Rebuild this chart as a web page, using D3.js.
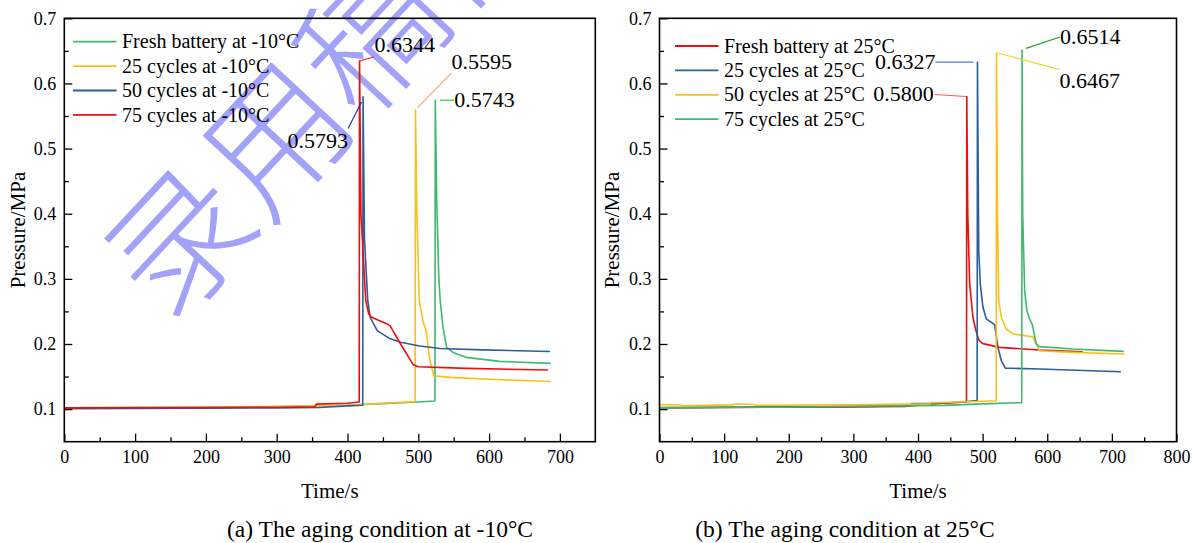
<!DOCTYPE html>
<html>
<head>
<meta charset="utf-8">
<script src="https://cdn.jsdelivr.net/npm/d3@7"></script>
<style>
body { margin: 0; background: #fff; }
svg { display: block; font-family: "Liberation Serif", "Times New Roman", serif; }
</style>
</head>
<body>
<div id="root"></div>
<script>
// ---- data: [time (s), pressure (MPa)] ----

// (a) -10°C
var labelsA = ["Fresh battery at -10°C", "25 cycles at -10°C", "50 cycles at -10°C", "75 cycles at -10°C"];
var freshM10 = [[0,0.1015],[100,0.1025],[200,0.103],[300,0.104],[400,0.106],[440,0.108],[500,0.111],[523.5,0.1125],[524,0.5743],[526,0.42],[529,0.30],[531,0.266],[535,0.2255],[540,0.1948],[549,0.187],[568,0.1794],[615,0.1733],[687,0.1702]];
var cyc25M10 = [[0,0.102],[100,0.1025],[200,0.103],[300,0.104],[400,0.106],[450,0.109],[495.5,0.1115],[496,0.5595],[498,0.40],[501.4,0.2666],[507,0.2333],[511,0.2205],[516.5,0.174],[522,0.151],[545,0.1487],[615,0.1451],[687,0.1425]];
var cyc50M10 = [[0,0.1005],[100,0.101],[200,0.1015],[300,0.102],[360,0.1025],[400,0.105],[421.5,0.106],[422,0.5793],[424,0.36],[428.6,0.267],[432,0.241],[442,0.2205],[458.5,0.209],[475,0.2026],[502,0.197],[531,0.193],[591,0.191],[686,0.1885]];
var cyc75M10 = [[0,0.102],[200,0.1025],[300,0.103],[354,0.1035],[356,0.1077],[400,0.109],[416.5,0.111],[417,0.6344],[419,0.40],[425.8,0.2667],[430,0.246],[434,0.241],[456,0.2308],[460,0.2282],[475,0.2],[493,0.168],[500,0.165],[568,0.1626],[683,0.160]];

// (b) 25°C
var labelsB = ["Fresh battery at 25°C", "25 cycles at 25°C", "50 cycles at 25°C", "75 cycles at 25°C"];
var freshP25 = [[0,0.102],[100,0.1025],[200,0.103],[300,0.1035],[380,0.104],[420,0.108],[475,0.111],[475.5,0.5800],[477,0.40],[480,0.2923],[485,0.241],[489,0.223],[494,0.206],[500.5,0.2006],[526,0.1948],[588,0.1907],[655,0.1882]];
var cyc25P25 = [[0,0.1026],[100,0.103],[200,0.1035],[300,0.104],[388,0.105],[390,0.1087],[420,0.1087],[470,0.111],[491.5,0.113],[492,0.6327],[494,0.3435],[496.4,0.292],[500.5,0.2563],[505.7,0.2385],[513.4,0.2333],[518.5,0.2297],[523.7,0.1948],[528.9,0.1743],[535,0.163],[588,0.1615],[714,0.1574]];
var cyc50P25 = [[0,0.1067],[32,0.1067],[33,0.105],[110,0.1065],[120,0.1078],[145,0.1072],[150,0.106],[300,0.1065],[380,0.1077],[418,0.1077],[420,0.1097],[480,0.1113],[521,0.1128],[521.5,0.6467],[523,0.40],[525,0.2666],[529,0.241],[536.6,0.223],[546.8,0.2154],[577.7,0.2112],[583,0.20],[588,0.1897],[639,0.1872],[719.5,0.1846]];
var cyc75P25 = [[0,0.102],[100,0.1025],[200,0.103],[300,0.1045],[440,0.1057],[500,0.108],[560.5,0.110],[561,0.6514],[562,0.40],[565,0.282],[568.5,0.2512],[572.6,0.2385],[576.8,0.2297],[583,0.20],[588,0.1959],[639.6,0.1923],[718.4,0.1887]];

var yTicks = [0.1, 0.2, 0.3, 0.4, 0.5, 0.6, 0.7];
var yMinor = [0.15, 0.25, 0.35, 0.45, 0.55, 0.65];

var green = "#3dba6c", yellow = "#fbbf1c", blue = "#2c5f98", red = "#f20d0d";

var svg = d3.select("#root").append("svg")
    .attr("width", 1199)
    .attr("height", 543);

// watermark sits under everything
svg.append("text")
    .attr("transform", "translate(322,86) rotate(-47)")
    .attr("text-anchor", "middle")
    .attr("dy", "0.38em")
    .style("font-family", "'Noto Sans CJK SC', sans-serif")
    .style("font-weight", 300)
    .style("font-size", "140px")
    .style("fill", "#a2a2f8")
    .text("录用稿件");

function drawPanel(p) {
    var x = d3.scaleLinear().domain([0, p.xMax]).range([p.left, p.right]);
    var y = d3.scaleLinear().domain([0.05, 0.7]).range([441.7, 18.3]);
    var g = svg.append("g");

    var line = d3.line().x(function(d){ return x(d[0]); }).y(function(d){ return y(d[1]); });

    p.series.forEach(function(s, i){
        g.append("path").datum(s)
            .attr("d", line)
            .attr("fill", "none")
            .attr("stroke", p.colors[i])
            .attr("stroke-width", 1.6)
            .attr("stroke-linejoin", "round");
    });

    // axes, ticks pointing inward
    var xMajor = d3.range(0, p.xMax + 1, 100);
    var xMinor = d3.range(50, p.xMax, 100);

    g.append("g").attr("transform", "translate(0," + y(0.05) + ")")
        .call(d3.axisBottom(x).tickValues(xMajor).tickSize(-8).tickSizeOuter(0).tickPadding(9).tickFormat(d3.format("d")));
    g.append("g").attr("transform", "translate(0," + y(0.05) + ")")
        .call(d3.axisBottom(x).tickValues(xMinor).tickSize(-4.5).tickSizeOuter(0).tickFormat(""));

    g.append("g").attr("transform", "translate(" + p.left + ",0)")
        .call(d3.axisLeft(y).tickValues(yTicks).tickSize(-8).tickSizeOuter(0).tickPadding(8).tickFormat(d3.format(".1f")));
    g.append("g").attr("transform", "translate(" + p.left + ",0)")
        .call(d3.axisLeft(y).tickValues(yMinor).tickSize(-4.5).tickSizeOuter(0).tickFormat(""));

    g.selectAll(".domain").remove();
    g.selectAll(".tick line").attr("stroke", "#000").attr("stroke-width", 1.3);
    g.selectAll(".tick text").attr("fill", "#000").style("font-size", "18px").style("font-family", "'Liberation Serif', serif");

    g.append("rect")
        .attr("x", p.left).attr("y", y(0.7))
        .attr("width", p.right - p.left).attr("height", y(0.05) - y(0.7))
        .attr("fill", "none").attr("stroke", "#000").attr("stroke-width", 1.6);

    // axis titles
    g.append("text")
        .attr("x", (p.left + p.right) / 2).attr("y", 498)
        .attr("text-anchor", "middle").style("font-size", "21px")
        .text("Time/s");
    g.append("text")
        .attr("transform", "translate(" + p.yTitleX + "," + (y(0.05) + y(0.7)) / 2 + ") rotate(-90)")
        .attr("text-anchor", "middle").style("font-size", "21px")
        .text("Pressure/MPa");

    // legend
    p.labels.forEach(function(lab, i){
        var ly = p.legY + i * 24.4;
        g.append("line")
            .attr("x1", p.legX).attr("x2", p.legX + 43.5)
            .attr("y1", ly).attr("y2", ly)
            .attr("stroke", p.colors[i]).attr("stroke-width", 1.8);
        g.append("text")
            .attr("x", p.legX + 49).attr("y", ly + 6.6)
            .style("font-size", "20px")
            .text(lab);
    });

    // peak annotations
    p.notes.forEach(function(n){
        var s = p.series[n.s];
        var pk = s.reduce(function(a, b){ return b[1] > a[1] ? b : a; });
        var px = x(pk[0]), py = y(pk[1]);
        g.append("line")
            .attr("x1", px + n.l[0]).attr("y1", py + n.l[1])
            .attr("x2", px + n.l[2]).attr("y2", py + n.l[3])
            .attr("stroke", n.c).attr("stroke-width", 1.1);
        g.append("text")
            .attr("x", px + n.t[0]).attr("y", py + n.t[1])
            .attr("text-anchor", n.a)
            .style("font-size", "22px")
            .text(d3.format(".4f")(pk[1]));
    });

    g.append("text")
        .attr("x", p.capX).attr("y", 536.5)
        .attr("text-anchor", "middle").style("font-size", "23.5px")
        .text(p.caption);
}

drawPanel({
    xMax: 750, left: 64.3, right: 595.3,
    series: [freshM10, cyc25M10, cyc50M10, cyc75M10],
    colors: [green, yellow, blue, red],
    labels: labelsA,
    legX: 73, legY: 41.7,
    yTitleX: 25,
    notes: [
        {s: 3, l: [0, 0, 14, -4], t: [15, -9], a: "start", c: "#ff1a1a"},
        {s: 2, l: [-15, 31.5, -1.5, 5], t: [-15, 51], a: "end", c: "#1a1ad6"},
        {s: 1, l: [2, -2, 36, -37], t: [36, -41], a: "start", c: "#f5a860"},
        {s: 0, l: [4.7, 0, 18.7, 0], t: [19, 7.3], a: "start", c: "#10d010"}
    ],
    capX: 380,
    caption: "(a) The aging condition at -10°C"
});

drawPanel({
    xMax: 800, left: 659.5, right: 1176.5,
    series: [freshP25, cyc25P25, cyc50P25, cyc75P25],
    colors: [red, blue, yellow, green],
    labels: labelsB,
    legX: 675, legY: 46,
    yTitleX: 619,
    notes: [
        {s: 1, l: [-42, 0, -4, 0], t: [-42, 7], a: "end", c: "#4a72ff"},
        {s: 0, l: [-32, -2, -1, 0], t: [-33, 4.4], a: "end", c: "#ff5555"},
        {s: 3, l: [4, -1.6, 38, -13], t: [38, -5.6], a: "start", c: "#1ea01e"},
        {s: 2, l: [1, 0, 63, 16.4], t: [63, 35.4], a: "start", c: "#e8d820"}
    ],
    capX: 845,
    caption: "(b) The aging condition at 25°C"
});
</script>
</body>
</html>
